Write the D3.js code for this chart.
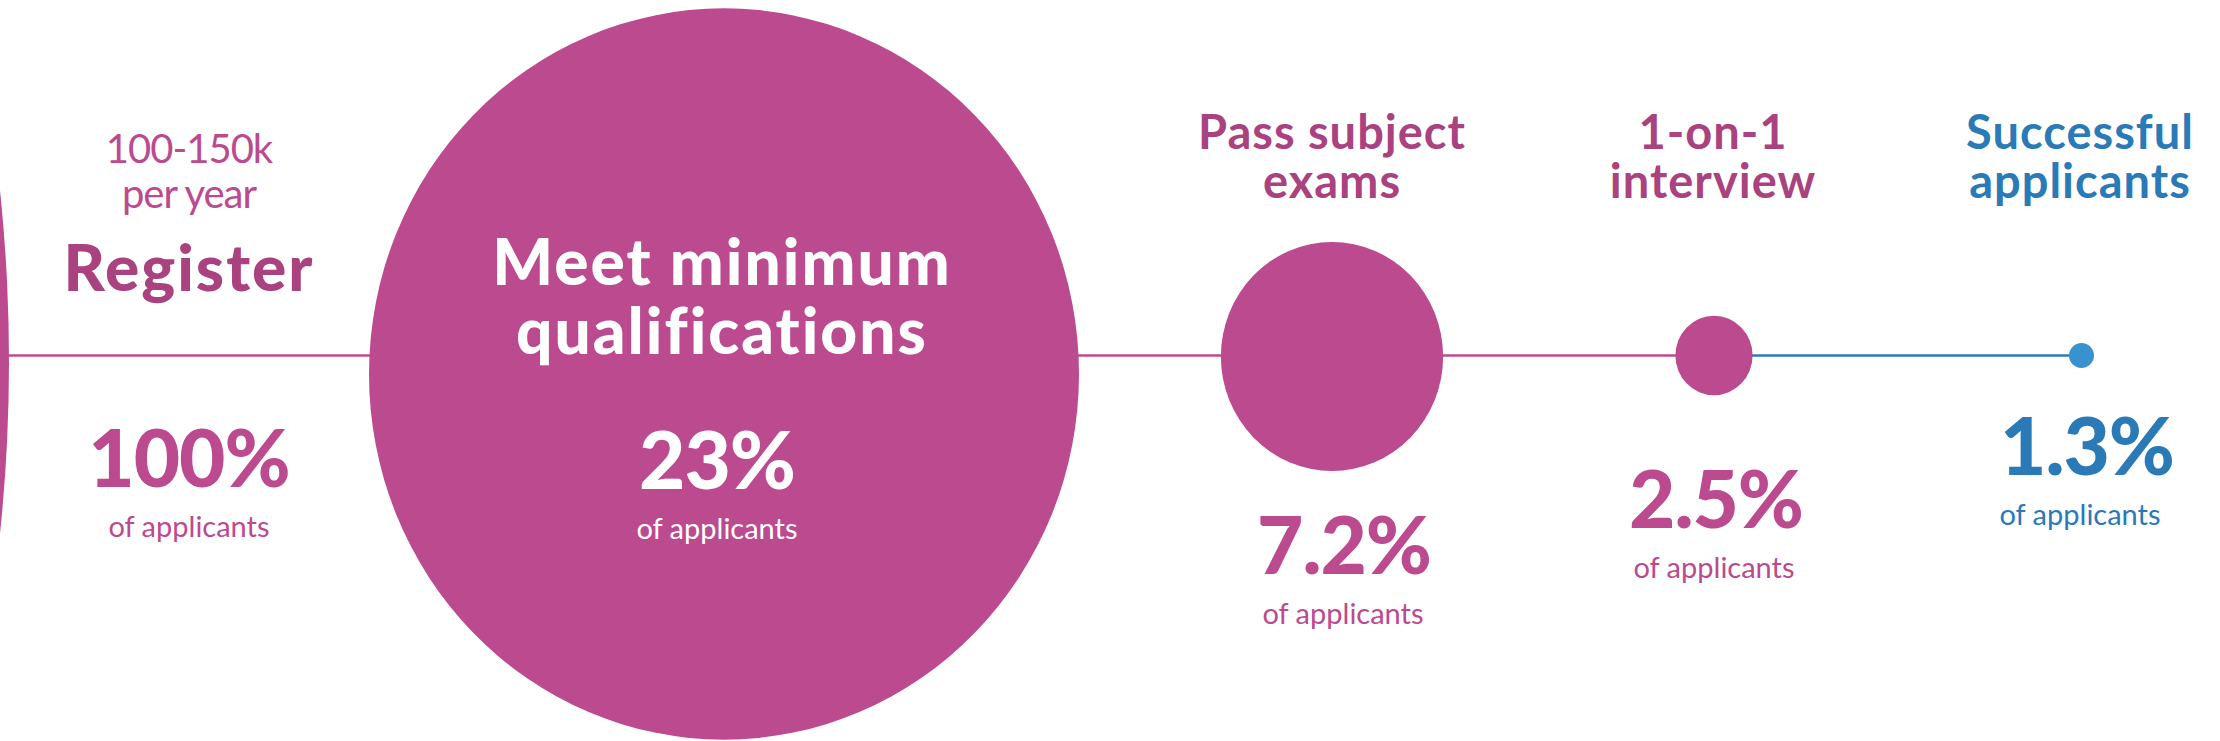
<!DOCTYPE html>
<html>
<head>
<meta charset="utf-8">
<script src="https://cdn.jsdelivr.net/npm/d3@7"></script>
<style>
  html, body { margin: 0; padding: 0; background: #fff; }
  svg { display: block; }
</style>
</head>
<body>
<svg id="funnel"></svg>
<script>
// Admission funnel: share of applicants left at each stage
const stages = ["Register", "Meet minimum qualifications", "Pass subject exams", "1-on-1 interview", "Successful applicants"];
const shareOfApplicants = [100, 23, 7.2, 2.5, 1.3];
const headingLines = [
    ["Register"],
    ["Meet minimum", "qualifications"],
    ["Pass subject", "exams"],
    ["1-on-1", "interview"],
    ["Successful", "applicants"]
];
const volumeNote = ["100-150k", "per year"];
const subLabel = "of applicants";

const W = 2220, H = 741;
const lineY = 355.5;

const pink = "#bc4a8e";
const headPink = "#aa4280";
const blueText = "#2a7ab8";
const blueLine = "#2b7bba";
const blueDot = "#3892d0";

// radius is linear in share; the drawing is slightly stretched vertically
const rx = d3.scaleLinear().domain([0, 23]).range([0, 355]);
const stretchY = 1.03;
const endMarkerR = 12.5;

// layout of the columns (label centres and circle centres)
const labelX = d3.scaleOrdinal().domain(stages).range([189, 722, 1332, 1713, 2080]);
const valueX = d3.scaleOrdinal().domain(stages).range([189, 717, 1344, 1716, 2087]);
const subX = d3.scaleOrdinal().domain(stages).range([189, 717, 1343, 1714, 2080]);
const circleX = d3.scaleOrdinal().domain(stages).range([9 - rx(100), 724, 1332, 1714, 2081.5]);
const circleY = d3.scaleOrdinal().domain(stages).range([362, 374, 356.5, 355.5, 355.5]);
const headY = d3.scaleOrdinal().domain(stages).range([291, 285, 149, 149, 149]);
const valueY = d3.scaleOrdinal().domain(stages).range([487, 489, 574, 528, 475]);

const rows = stages.map((s, i) => ({
    stage: s,
    value: shareOfApplicants[i],
    lines: headingLines[i],
    index: i,
    last: i === stages.length - 1
}));

const svg = d3.select("#funnel").attr("width", W).attr("height", H);

// connecting line: pink up to the interview, blue to the end marker
svg.append("line")
    .attr("x1", 0).attr("x2", circleX(stages[3]))
    .attr("y1", lineY).attr("y2", lineY)
    .attr("stroke", pink).attr("stroke-width", 2.6);
svg.append("line")
    .attr("x1", circleX(stages[3])).attr("x2", circleX(stages[4]))
    .attr("y1", lineY).attr("y2", lineY)
    .attr("stroke", blueLine).attr("stroke-width", 2.6);

// stage circles
svg.selectAll("ellipse.stage")
    .data(rows)
    .join("ellipse")
    .attr("class", "stage")
    .attr("cx", d => circleX(d.stage))
    .attr("cy", d => circleY(d.stage))
    .attr("rx", d => d.last ? endMarkerR : rx(d.value))
    .attr("ry", d => d.last ? endMarkerR : rx(d.value) * stretchY)
    .attr("fill", d => d.last ? blueDot : pink);

const font = "Lato, 'Open Sans', sans-serif";

// volume note above Register
svg.selectAll("text.note")
    .data(volumeNote)
    .join("text")
    .attr("class", "note")
    .attr("x", labelX(stages[0]))
    .attr("y", (d, i) => 163 + i * 45)
    .attr("text-anchor", "middle")
    .attr("font-family", font)
    .attr("font-size", 40)
    .attr("letter-spacing", -1)
    .attr("fill", pink)
    .text(d => d);

// headings
rows.forEach(d => {
    const big = d.index < 2;
    const color = d.index === 1 ? "#fff" : (d.last ? blueText : headPink);
    svg.selectAll(null)
        .data(d.lines)
        .join("text")
        .attr("x", labelX(d.stage))
        .attr("y", (t, j) => headY(d.stage) + j * (big ? 68.5 : 48.5))
        .attr("text-anchor", "middle")
        .attr("font-family", font)
        .attr("font-weight", big ? 900 : 700)
        .attr("font-size", big ? 64 : 47)
        .attr("letter-spacing", big ? 2 : 1)
        .attr("fill", color)
        .text(t => t);
});

// value labels
const valueColor = d => d.index === 1 ? "#fff" : (d.last ? blueText : pink);

svg.selectAll("text.value")
    .data(rows)
    .join("text")
    .attr("class", "value")
    .attr("x", d => valueX(d.stage))
    .attr("y", d => valueY(d.stage))
    .attr("text-anchor", "middle")
    .attr("font-family", font)
    .attr("font-weight", 900)
    .attr("font-size", 80)
    .attr("letter-spacing", -1)
    .attr("fill", valueColor)
    .text(d => d.value + "%");

svg.selectAll("text.sub")
    .data(rows)
    .join("text")
    .attr("class", "sub")
    .attr("x", d => subX(d.stage))
    .attr("y", d => valueY(d.stage) + 50)
    .attr("text-anchor", "middle")
    .attr("font-family", font)
    .attr("font-size", 29)
    .attr("fill", valueColor)
    .text(subLabel);
</script>
</body>
</html>
